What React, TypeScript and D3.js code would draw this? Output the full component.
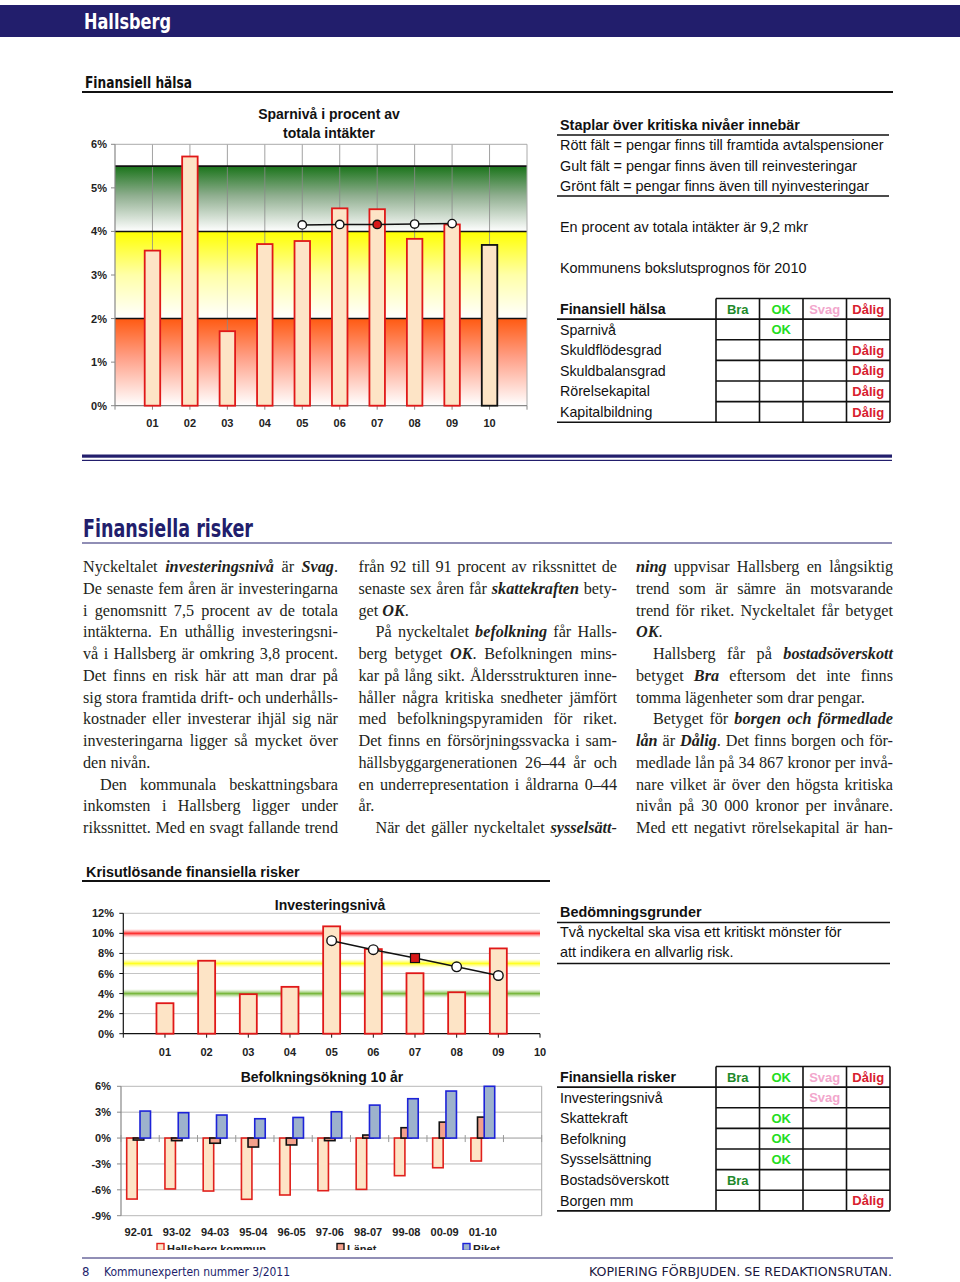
import React from 'react';
import * as d3 from 'd3';

// ---------- DATA ----------
const sparYears = ['01', '02', '03', '04', '05', '06', '07', '08', '09', '10'];
const sparValues = [3.56, 5.72, 1.71, 3.71, 3.78, 4.53, 4.51, 3.83, 4.16, 3.69];
const sparTrendYears = ['05', '06', '07', '08', '09'];
const sparTrend = [4.15, 4.16, 4.16, 4.17, 4.18];
const sparTicks = [0, 1, 2, 3, 4, 5, 6];
const sparLevels = [2, 4, 5.5];

const invYears = ['01', '02', '03', '04', '05', '06', '07', '08', '09'];
const invAxisLabels = ['01', '02', '03', '04', '05', '06', '07', '08', '09', '10'];
const invValues = [3.04, 7.27, 3.94, 4.67, 10.7, 8.43, 6.03, 4.13, 8.5];
const invTrendYears = ['05', '06', '07', '08', '09'];
const invTrend = [9.27, 8.37, 7.54, 6.67, 5.8];
const invTicks = [0, 2, 4, 6, 8, 10, 12];
const invLevels = [10, 7, 4];

const befPeriods = ['92-01', '93-02', '94-03', '95-04', '96-05', '97-06', '98-07', '99-08', '00-09', '01-10'];
const befHallsberg = [-7.07, -5.9, -6.14, -7.1, -6.6, -6.1, -5.95, -4.36, -3.44, -2.66];
const befLanet = [-0.23, -0.3, -0.6, -1.04, -0.8, -0.3, 0.35, 1.2, 1.85, 2.43];
const befRiket = [3.13, 2.94, 2.67, 2.24, 2.39, 3.05, 3.82, 4.56, 5.45, 6.0];
const befTicks = [6, 3, 0, -3, -6, -9];
const befSeries = ['Hallsberg kommun', 'Länet', 'Riket'];

const grades = ['Bra', 'OK', 'Svag', 'Dålig'];
const gradeColors = ['#1e8a2a', '#22dd22', '#f2a6cc', '#d8202e'];
const halsaRows = ['Sparnivå', 'Skuldflödesgrad', 'Skuldbalansgrad', 'Rörelsekapital', 'Kapitalbildning'];
const halsaGrades = ['OK', 'Dålig', 'Dålig', 'Dålig', 'Dålig'];
const riskRows = ['Investeringsnivå', 'Skattekraft', 'Befolkning', 'Sysselsättning', 'Bostadsöverskott', 'Borgen mm'];
const riskGrades = ['Svag', 'OK', 'OK', 'OK', 'Bra', 'Dålig'];

const col1 = [
  'Nyckeltalet *investeringsnivå* är *Svag*.',
  'De senaste fem åren är investeringarna',
  'i genomsnitt 7,5 procent av de totala',
  'intäkterna. En uthållig investeringsni-',
  'vå i Hallsberg är omkring 3,8 procent.',
  'Det finns en risk här att man drar på',
  'sig stora framtida drift- och underhålls-',
  'kostnader eller investerar ihjäl sig när',
  'investeringarna ligger så mycket över',
  'den nivån.$',
  '^Den kommunala beskattningsbara',
  'inkomsten i Hallsberg ligger under',
  'rikssnittet. Med en svagt fallande trend',
];
const col2 = [
  'från 92 till 91 procent av rikssnittet de',
  'senaste sex åren får *skattekraften* bety-',
  'get *OK*.$',
  '^På nyckeltalet *befolkning* får Halls-',
  'berg betyget *OK*. Befolkningen mins-',
  'kar på lång sikt. Åldersstrukturen inne-',
  'håller några kritiska snedheter jämfört',
  'med befolkningspyramiden för riket.',
  'Det finns en försörjningssvacka i sam-',
  'hällsbyggargenerationen 26–44 år och',
  'en underrepresentation i åldrarna 0–44',
  'år.$',
  '^När det gäller nyckeltalet *sysselsätt-*',
];
const col3 = [
  '*ning* uppvisar Hallsberg en långsiktig',
  'trend som är sämre än motsvarande',
  'trend för riket. Nyckeltalet får betyget',
  '*OK*.$',
  '^Hallsberg får på *bostadsöverskott*',
  'betyget *Bra* eftersom det inte finns',
  'tomma lägenheter som drar pengar.$',
  '^Betyget för *borgen och förmedlade*',
  '*lån* är *Dålig*. Det finns borgen och för-',
  'medlade lån på 34 867 kronor per invå-',
  'nare vilket är över den högsta kritiska',
  'nivån på 30 000 kronor per invånare.',
  'Med ett negativt rörelsekapital är han-',
];

// ---------- STYLE ----------
const SANS = '"Liberation Sans", Arial, sans-serif';
const SERIF = '"Liberation Serif", "DejaVu Serif", serif';
const COND = '"Liberation Sans Narrow", "DejaVu Sans Condensed", "Liberation Sans", sans-serif';
const NAVY = '#221e6c';
const FS = 16.2;
const TS = 14.4;

let ctx: CanvasRenderingContext2D | null = null;
function measure(t: string, bi: boolean) {
  if (!ctx) ctx = document.createElement('canvas').getContext('2d');
  if (!ctx) return t.length * 7;
  ctx.font = `${bi ? 'italic bold ' : ''}${FS}px ${SERIF}`;
  return ctx.measureText(t).width;
}

type Piece = { t: string; bi: boolean };
function parseWords(line: string): Piece[][] {
  const words: Piece[][] = [];
  let cur: Piece[] = [];
  let bi = false;
  let buf = '';
  const flush = () => {
    if (buf) { cur.push({ t: buf, bi }); buf = ''; }
  };
  for (const ch of line) {
    if (ch === '*') { flush(); bi = !bi; }
    else if (ch === ' ') { flush(); if (cur.length) words.push(cur); cur = []; }
    else buf += ch;
  }
  flush();
  if (cur.length) words.push(cur);
  return words;
}

function Column({ lines, x0, width, y0, step }: { lines: string[]; x0: number; width: number; y0: number; step: number }) {
  const out: React.ReactNode[] = [];
  const minGap = 3;
  lines.forEach((raw, li) => {
    let s = raw;
    const indent = s.startsWith('^');
    if (indent) s = s.slice(1);
    const ragged = s.endsWith('$');
    if (ragged) s = s.slice(0, -1);
    const words = parseWords(s);
    const pw = words.map((w) => w.map((p) => measure(p.t, p.bi)));
    let widths = pw.map((a) => a.reduce((x, y) => x + y, 0));
    const sx = x0 + (indent ? 17 : 0);
    const avail = width - (indent ? 17 : 0);
    let total = widths.reduce((a, b) => a + b, 0);
    let scale = 1;
    if (!ragged && words.length > 1 && total + minGap * (words.length - 1) > avail) {
      scale = (avail - minGap * (words.length - 1)) / total;
      widths = widths.map((w) => w * scale);
      total = total * scale;
    }
    const gap = !ragged && words.length > 1 ? (avail - total) / (words.length - 1) : measure(' ', false);
    let x = sx;
    const y = y0 + li * step;
    words.forEach((w, wi) => {
      let px = x;
      w.forEach((p, pi) => {
        const pWidth = pw[wi][pi] * scale;
        out.push(
          <text key={`${li}-${wi}-${pi}`} x={px} y={y} fontFamily={SERIF} fontSize={FS} fill="#231f20"
            fontStyle={p.bi ? 'italic' : 'normal'} fontWeight={p.bi ? 'bold' : 'normal'}
            {...(scale < 1 ? { textLength: pWidth, lengthAdjust: 'spacingAndGlyphs' } : {})}>
            {p.t}
          </text>
        );
        px += pWidth;
      });
      x += widths[wi] + gap;
    });
  });
  return <g>{out}</g>;
}

function GradeTable({ top, title, rows, rowGrades }: { top: number; title: string; rows: string[]; rowGrades: string[] }) {
  const pitch = 20.62;
  const cols = [716, 759.5, 803, 846.5, 890];
  const left = 557;
  const n = rows.length + 1;
  const bottom = top + pitch * n;
  const els: React.ReactNode[] = [];
  els.push(<text key="t" x={560} y={top + 15.5} fontFamily={SANS} fontSize={14.2} fontWeight="bold" fill="#111">{title}</text>);
  grades.forEach((g, i) => {
    els.push(
      <text key={'h' + i} x={(cols[i] + cols[i + 1]) / 2} y={top + 15} textAnchor="middle" fontFamily={SANS} fontSize={13} fontWeight="bold" fill={gradeColors[i]}>{g}</text>
    );
  });
  rows.forEach((r, ri) => {
    const yb = top + pitch * (ri + 1) + 15.5;
    els.push(<text key={'r' + ri} x={560} y={yb} fontFamily={SANS} fontSize={14.2} fill="#111">{r}</text>);
    const gi = grades.indexOf(rowGrades[ri]);
    els.push(
      <text key={'g' + ri} x={(cols[gi] + cols[gi + 1]) / 2} y={yb - 0.5} textAnchor="middle" fontFamily={SANS} fontSize={13} fontWeight="bold" fill={gradeColors[gi]}>{rowGrades[ri]}</text>
    );
  });
  for (let i = 0; i <= n; i++) {
    const y = top + pitch * i;
    const full = i === 1 || i === n;
    els.push(<line key={'hl' + i} x1={full ? left : cols[0]} x2={cols[4]} y1={y} y2={y} stroke="#111" strokeWidth={1.6} />);
  }
  cols.forEach((cx, i) => {
    els.push(<line key={'vl' + i} x1={cx} x2={cx} y1={top} y2={bottom} stroke="#111" strokeWidth={1.6} />);
  });
  return <g>{els}</g>;
}

export default function App() {
  // ----- Sparnivå chart -----
  const sx = d3.scaleLinear().domain([0, 11]).range([115, 527]);
  const sy = d3.scaleLinear().domain([0, 6]).range([405.7, 144.3]);
  const sparLine = d3.line<number>()
    .x((_, i) => sx(sparYears.indexOf(sparTrendYears[i]) + 1))
    .y((d) => sy(d));
  const bw1 = 15.5;

  // ----- Investeringsnivå chart -----
  const ix = d3.scaleLinear().domain([0, 10]).range([123.3, 540]);
  const iy = d3.scaleLinear().domain([0, 12]).range([1033.7, 913.3]);
  const invLine = d3.line<number>()
    .x((_, i) => ix(invYears.indexOf(invTrendYears[i]) + 1))
    .y((d) => iy(d));
  const bw2 = 17;
  const levelColors = ['red', 'yellow', 'green'];

  // ----- Befolkning chart -----
  const bx = d3.scaleLinear().domain([0, 11]).range([121, 541.7]);
  const by = d3.scaleLinear().domain([-9, 6]).range([1215.7, 1086.3]);
  const bw3 = 10.5;
  const befData = [befHallsberg, befLanet, befRiket];
  const befFill = ['#fde4c6', '#f3a18c', '#9db2cc'];
  const befStroke = ['#e0201c', '#111', '#1c22d8'];
  const befOffset = [5.7, 12.3, 19];
  const legendX = [157, 337, 463];

  return (
    <svg width={960} height={1282} style={{ position: 'absolute', left: 0, top: 0, background: '#fff' }}>
      <defs>
        <linearGradient id="gGreen" x1="0" y1="0" x2="0" y2="1">
          <stop offset="0" stopColor="#1a741a" />
          <stop offset="0.45" stopColor="#8fae8f" />
          <stop offset="1" stopColor="#ffffff" />
        </linearGradient>
        <linearGradient id="gYellow" x1="0" y1="0" x2="0" y2="1">
          <stop offset="0" stopColor="#ffff00" />
          <stop offset="0.5" stopColor="#ffffa8" />
          <stop offset="1" stopColor="#ffffff" />
        </linearGradient>
        <linearGradient id="gRed" x1="0" y1="0" x2="0" y2="1">
          <stop offset="0" stopColor="#ff5a12" />
          <stop offset="0.45" stopColor="#ffa088" />
          <stop offset="1" stopColor="#ffffff" />
        </linearGradient>
        <linearGradient id="lred" x1="0" y1="0" x2="0" y2="1">
          <stop offset="0" stopColor="#ff9a9a" stopOpacity="0" />
          <stop offset="0.5" stopColor="#ff2a2a" />
          <stop offset="1" stopColor="#ff9a9a" stopOpacity="0" />
        </linearGradient>
        <linearGradient id="lyellow" x1="0" y1="0" x2="0" y2="1">
          <stop offset="0" stopColor="#ffff80" stopOpacity="0" />
          <stop offset="0.5" stopColor="#ffff20" />
          <stop offset="1" stopColor="#ffff80" stopOpacity="0" />
        </linearGradient>
        <linearGradient id="lgreen" x1="0" y1="0" x2="0" y2="1">
          <stop offset="0" stopColor="#b0d890" stopOpacity="0" />
          <stop offset="0.5" stopColor="#76b63a" />
          <stop offset="1" stopColor="#b0d890" stopOpacity="0" />
        </linearGradient>
        <clipPath id="legClip">
          <rect x={0} y={1236} width={960} height={14} />
        </clipPath>
      </defs>

      {/* Header band */}
      <rect x={0} y={5} width={960} height={32} fill={NAVY} />
      <text x={84} y={29} fill="#fff" fontFamily={COND} fontWeight="bold" fontSize={22} textLength={87} lengthAdjust="spacingAndGlyphs">Hallsberg</text>

      {/* Finansiell hälsa heading */}
      <text x={85} y={88} fill="#111" fontFamily={COND} fontWeight="bold" fontSize={15} textLength={107} lengthAdjust="spacingAndGlyphs">Finansiell hälsa</text>
      <line x1={82} x2={893} y1={92} y2={92} stroke="#111" strokeWidth={2} />

      {/* ===== Sparnivå chart ===== */}
      <text x={329} y={118.5} textAnchor="middle" fontFamily={SANS} fontWeight="bold" fontSize={14} fill="#111">Sparnivå i procent av</text>
      <text x={329} y={137.5} textAnchor="middle" fontFamily={SANS} fontWeight="bold" fontSize={14} fill="#111">totala intäkter</text>
      <rect x={sx(0)} y={sy(5.5)} width={sx(11) - sx(0)} height={sy(4) - sy(5.5)} fill="url(#gGreen)" />
      <rect x={sx(0)} y={sy(4)} width={sx(11) - sx(0)} height={sy(2) - sy(4)} fill="url(#gYellow)" />
      <rect x={sx(0)} y={sy(2)} width={sx(11) - sx(0)} height={sy(0) - sy(2)} fill="url(#gRed)" />
      {sparYears.map((_, i) => (
        <line key={'vg' + i} x1={sx(i + 1)} x2={sx(i + 1)} y1={sy(6)} y2={sy(0)} stroke="#8a8a8a" strokeWidth={0.8} />
      ))}
      {sparLevels.map((l) => (
        <line key={'lv' + l} x1={sx(0)} x2={sx(11)} y1={sy(l)} y2={sy(l)} stroke="#111" strokeWidth={1.6} />
      ))}
      <line x1={sx(0)} x2={sx(11)} y1={sy(6)} y2={sy(6)} stroke="#aaa" strokeWidth={1} />
      <line x1={sx(11)} x2={sx(11)} y1={sy(6)} y2={sy(0)} stroke="#aaa" strokeWidth={1} />
      <line x1={sx(0)} x2={sx(0)} y1={sy(6)} y2={sy(0)} stroke="#888" strokeWidth={1.2} />
      <line x1={sx(0)} x2={sx(11)} y1={sy(0)} y2={sy(0)} stroke="#888" strokeWidth={1.2} />
      {sparTicks.map((t) => (
        <g key={'st' + t}>
          <line x1={sx(0) - 4} x2={sx(0)} y1={sy(t)} y2={sy(t)} stroke="#888" />
          <text x={107} y={sy(t) + 4} textAnchor="end" fontFamily={SANS} fontWeight="bold" fontSize={11} fill="#222">{t}%</text>
        </g>
      ))}
      {d3.range(0, 12).map((k) => (
        <line key={'sxt' + k} x1={sx(k)} x2={sx(k)} y1={sy(0)} y2={sy(0) + 4} stroke="#888" />
      ))}
      {sparValues.map((v, i) => (
        <rect key={'sb' + i} x={sx(i + 1) - bw1 / 2} y={sy(v)} width={bw1} height={sy(0) - sy(v)} fill="#fde4c6" stroke={i === sparValues.length - 1 ? '#111' : '#e01818'} strokeWidth={1.8} />
      ))}
      {sparYears.map((yr, i) => (
        <text key={'sl' + i} x={sx(i + 1)} y={426.5} textAnchor="middle" fontFamily={SANS} fontWeight="bold" fontSize={11} fill="#222">{yr}</text>
      ))}
      <path d={sparLine(sparTrend) || ''} fill="none" stroke="#111" strokeWidth={1.5} />
      {sparTrend.map((v, i) => (
        <circle key={'sc' + i} cx={sx(sparYears.indexOf(sparTrendYears[i]) + 1)} cy={sy(v)} r={4.2} fill={i === 2 ? '#d81818' : '#fff'} stroke="#111" strokeWidth={1.4} />
      ))}

      {/* ===== Right: legend text ===== */}
      <text x={560} y={130} fontFamily={SANS} fontWeight="bold" fontSize={TS} fill="#111">Staplar över kritiska nivåer innebär</text>
      <line x1={557} x2={889} y1={135} y2={135} stroke="#111" strokeWidth={1.6} />
      <text x={560} y={150} fontFamily={SANS} fontSize={TS} fill="#111">Rött fält = pengar finns till framtida avtalspensioner</text>
      <text x={560} y={170.5} fontFamily={SANS} fontSize={TS} fill="#111">Gult fält = pengar finns även till reinvesteringar</text>
      <text x={560} y={191} fontFamily={SANS} fontSize={TS} fill="#111">Grönt fält = pengar finns även till nyinvesteringar</text>
      <line x1={557} x2={889} y1={196} y2={196} stroke="#111" strokeWidth={1.6} />
      <text x={560} y={232} fontFamily={SANS} fontSize={TS} fill="#111">En procent av totala intäkter är 9,2 mkr</text>
      <text x={560} y={272.5} fontFamily={SANS} fontSize={TS} fill="#111">Kommunens bokslutsprognos för 2010</text>
      <GradeTable top={298.5} title="Finansiell hälsa" rows={halsaRows} rowGrades={halsaGrades} />

      {/* Separator */}
      <rect x={82} y={454.5} width={810} height={3.2} fill={NAVY} />
      <rect x={82} y={459.8} width={810} height={1.2} fill={NAVY} />

      {/* Finansiella risker heading */}
      <text x={83} y={537} fill={NAVY} fontFamily={COND} fontWeight="bold" fontSize={24} textLength={170} lengthAdjust="spacingAndGlyphs">Finansiella risker</text>
      <line x1={82} x2={892} y1={543} y2={543} stroke={NAVY} strokeWidth={1.2} />

      {/* Body text */}
      <Column lines={col1} x0={83} width={255} y0={572} step={21.75} />
      <Column lines={col2} x0={358.5} width={258.5} y0={572} step={21.75} />
      <Column lines={col3} x0={636} width={257} y0={572} step={21.75} />

      {/* Krisutlösande heading */}
      <text x={86} y={877} fontFamily={SANS} fontWeight="bold" fontSize={TS} fill="#111">Krisutlösande finansiella risker</text>
      <line x1={82} x2={550} y1={881} y2={881} stroke="#111" strokeWidth={2} />

      {/* ===== Investeringsnivå chart ===== */}
      <text x={330} y={910} textAnchor="middle" fontFamily={SANS} fontWeight="bold" fontSize={14} fill="#111">Investeringsnivå</text>
      {invTicks.map((t) => (
        <g key={'it' + t}>
          {t > 0 && <line x1={ix(0)} x2={ix(10)} y1={iy(t)} y2={iy(t)} stroke="#c4c4c4" strokeWidth={1} />}
          <line x1={ix(0) - 4} x2={ix(0)} y1={iy(t)} y2={iy(t)} stroke="#111" />
          <text x={114} y={iy(t) + 4} textAnchor="end" fontFamily={SANS} fontWeight="bold" fontSize={11} fill="#222">{t}%</text>
        </g>
      ))}
      {invLevels.map((l, i) => (
        <rect key={'il' + l} x={ix(0)} y={iy(l) - 4.5} width={ix(10) - ix(0)} height={9} fill={`url(#l${levelColors[i]})`} />
      ))}
      <line x1={ix(0)} x2={ix(0)} y1={iy(12)} y2={iy(0)} stroke="#111" strokeWidth={1.2} />
      <line x1={ix(0)} x2={ix(10)} y1={iy(0)} y2={iy(0)} stroke="#111" strokeWidth={1.2} />
      {d3.range(0, 11).map((k) => (
        <line key={'ixt' + k} x1={ix(k)} x2={ix(k)} y1={iy(0)} y2={iy(0) + 4} stroke="#111" />
      ))}
      {invValues.map((v, i) => (
        <rect key={'ib' + i} x={ix(i + 1) - bw2 / 2} y={iy(v)} width={bw2} height={iy(0) - iy(v)} fill="#fde4c6" stroke="#e01818" strokeWidth={1.8} />
      ))}
      {invAxisLabels.map((lb, i) => (
        <text key={'ixl' + i} x={ix(i + 1)} y={1055.5} textAnchor="middle" fontFamily={SANS} fontWeight="bold" fontSize={11} fill="#222">{lb}</text>
      ))}
      <path d={invLine(invTrend) || ''} fill="none" stroke="#111" strokeWidth={1.4} />
      {invTrend.map((v, i) => {
        const cx = ix(invYears.indexOf(invTrendYears[i]) + 1);
        return i === 2 ? (
          <rect key={'ic' + i} x={cx - 4.5} y={iy(v) - 4.5} width={9} height={9} fill="#d81818" stroke="#111" strokeWidth={1.2} />
        ) : (
          <circle key={'ic' + i} cx={cx} cy={iy(v)} r={4.8} fill="#fff" stroke="#111" strokeWidth={1.4} />
        );
      })}

      {/* ===== Right bottom: Bedömningsgrunder ===== */}
      <text x={560} y={917} fontFamily={SANS} fontWeight="bold" fontSize={TS} fill="#111">Bedömningsgrunder</text>
      <line x1={557} x2={890} y1={922.5} y2={922.5} stroke="#111" strokeWidth={1.6} />
      <text x={560} y={936.5} fontFamily={SANS} fontSize={TS} fill="#111">Två nyckeltal ska visa ett kritiskt mönster för</text>
      <text x={560} y={957} fontFamily={SANS} fontSize={TS} fill="#111">att indikera en allvarlig risk.</text>
      <line x1={557} x2={890} y1={963.5} y2={963.5} stroke="#111" strokeWidth={1.6} />
      <GradeTable top={1066.5} title="Finansiella risker" rows={riskRows} rowGrades={riskGrades} />

      {/* ===== Befolkningsökning chart ===== */}
      <text x={322} y={1082} textAnchor="middle" fontFamily={SANS} fontWeight="bold" fontSize={14} fill="#111">Befolkningsökning 10 år</text>
      {befTicks.map((t) => (
        <g key={'bt' + t}>
          <line x1={bx(0)} x2={bx(11)} y1={by(t)} y2={by(t)} stroke={t === 0 ? '#999' : '#b8b8b8'} strokeWidth={1} />
          <line x1={bx(0) - 4} x2={bx(0)} y1={by(t)} y2={by(t)} stroke="#888" />
          <text x={111} y={by(t) + 4} textAnchor="end" fontFamily={SANS} fontWeight="bold" fontSize={11} fill="#222">{t}%</text>
        </g>
      ))}
      <line x1={bx(0)} x2={bx(0)} y1={by(6)} y2={by(-9)} stroke="#888" strokeWidth={1.2} />
      <line x1={bx(11)} x2={bx(11)} y1={by(6)} y2={by(-9)} stroke="#aaa" strokeWidth={1} />
      {d3.range(0, 12).map((k) => (
        <line key={'bxt' + k} x1={bx(k)} x2={bx(k)} y1={by(0) - 3} y2={by(0) + 4} stroke="#999" />
      ))}
      {befData.map((series, si) =>
        series.map((v, i) => (
          <rect key={`bb${si}-${i}`} x={bx(i) + befOffset[si]} y={by(Math.max(0, v))} width={bw3} height={Math.abs(by(v) - by(0))} fill={befFill[si]} stroke={befStroke[si]} strokeWidth={1.6} />
        ))
      )}
      {befPeriods.map((p, i) => (
        <text key={'bl' + i} x={bx(i + 0.5) - 1.5} y={1235.5} textAnchor="middle" fontFamily={SANS} fontWeight="bold" fontSize={11} fill="#222">{p}</text>
      ))}
      <g clipPath="url(#legClip)">
        {befSeries.map((s, si) => (
          <g key={'lg' + si}>
            <rect x={legendX[si]} y={1243.5} width={7} height={7} fill={befFill[si]} stroke={befStroke[si]} strokeWidth={1.4} />
            <text x={legendX[si] + 10} y={1252.5} fontFamily={SANS} fontWeight="bold" fontSize={11} fill="#222">{s}</text>
          </g>
        ))}
      </g>

      {/* Footer */}
      <line x1={82} x2={893} y1={1258} y2={1258} stroke={NAVY} strokeWidth={1} />
      <text x={82} y={1276} fill={NAVY} fontFamily={COND} fontSize={13}>8</text>
      <text x={104} y={1276} fill={NAVY} fontFamily={COND} fontSize={13} textLength={186} lengthAdjust="spacingAndGlyphs">Kommunexperten nummer 3/2011</text>
      <text x={589} y={1276} fill="#1a1840" fontFamily={COND} fontSize={13} textLength={303} lengthAdjust="spacingAndGlyphs">KOPIERING FÖRBJUDEN. SE REDAKTIONSRUTAN.</text>
    </svg>
  );
}
